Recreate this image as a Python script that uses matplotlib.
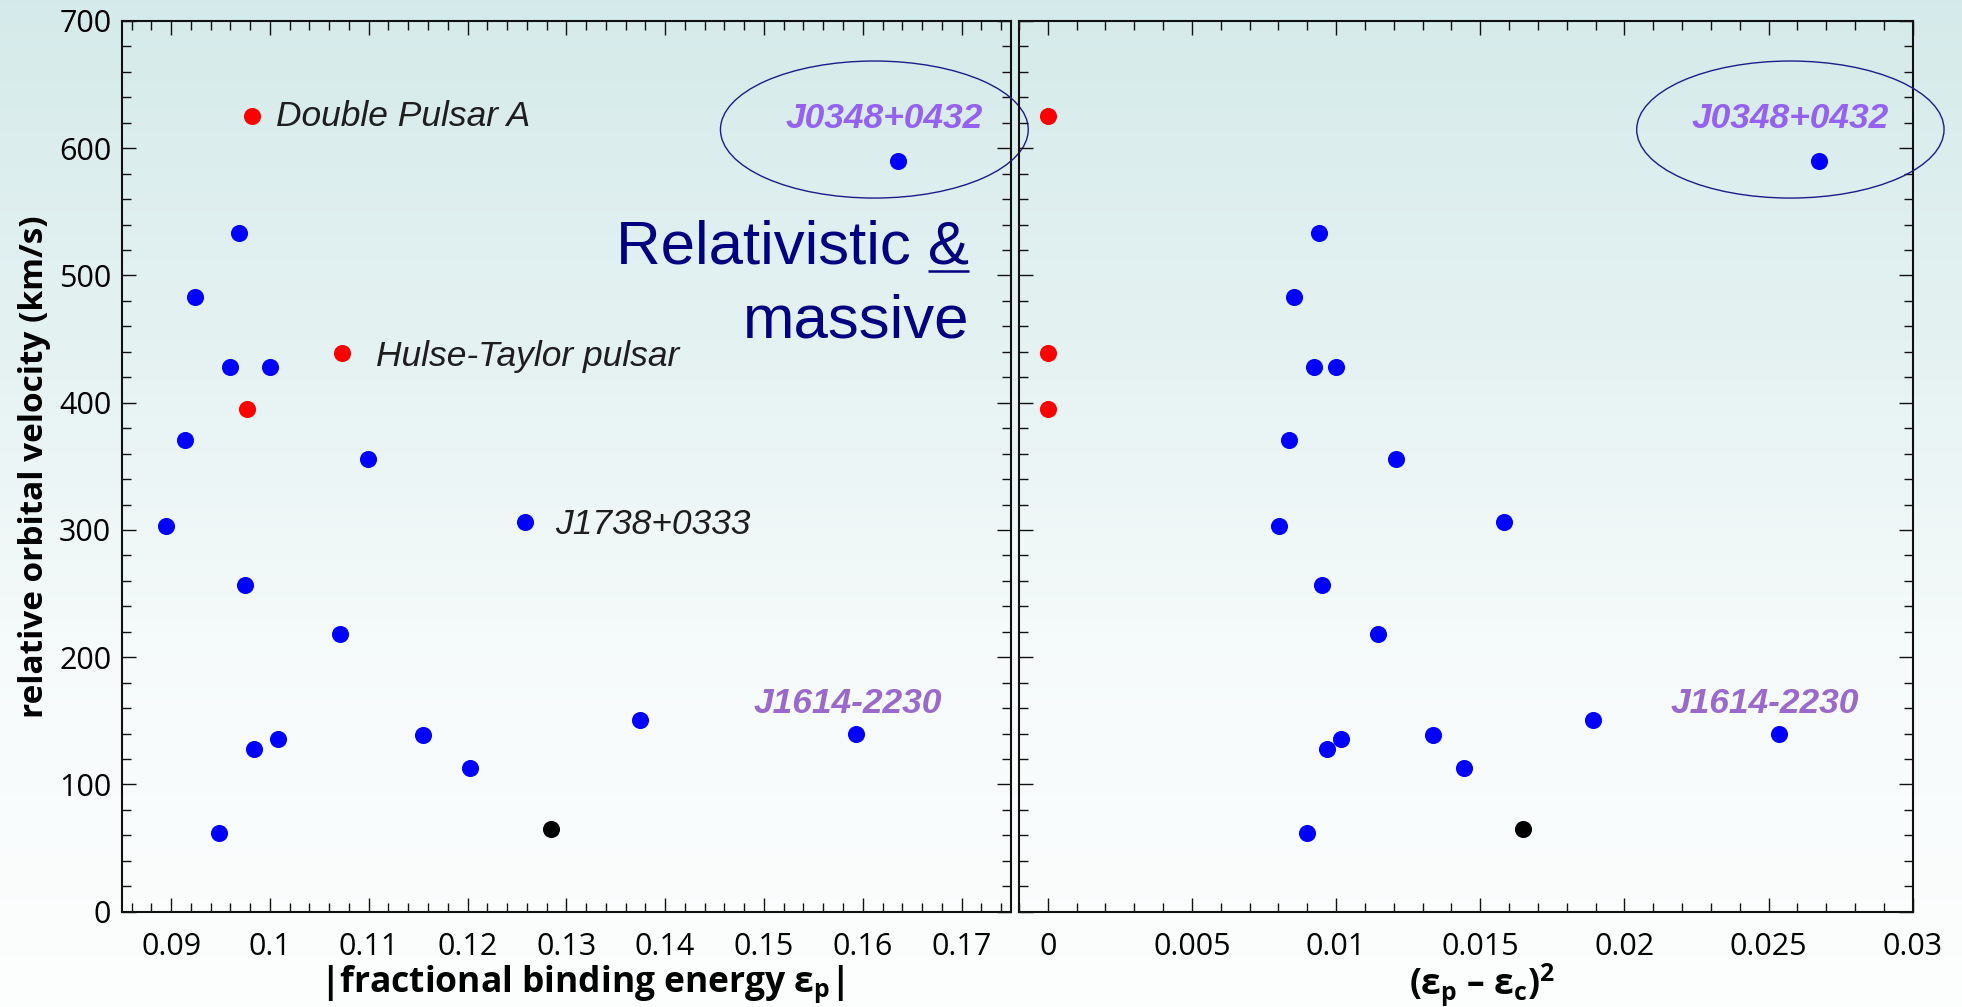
import numpy as np
import matplotlib
matplotlib.use("Agg")
import matplotlib.pyplot as plt
from matplotlib.patches import Ellipse
from matplotlib.ticker import MultipleLocator, FuncFormatter
from matplotlib.lines import Line2D

# ---------------- data ----------------
# pulsar + white-dwarf systems (blue)
blue_eps = [0.1636, 0.0969, 0.0924, 0.0960, 0.1000, 0.0914, 0.1099, 0.0895, 0.1258,
            0.0975, 0.1071, 0.1155, 0.1008, 0.0984, 0.1202, 0.1375, 0.1593, 0.0948]
blue_d2 = [0.02674, 0.00939, 0.00854, 0.00922, 0.01000, 0.00835, 0.01208, 0.00801, 0.01583,
           0.00950, 0.01147, 0.01335, 0.01016, 0.00968, 0.01443, 0.01890, 0.02537, 0.00899]
blue_v = [590, 533.6, 483, 427.8, 427.8, 371, 356, 303, 306.5,
          257, 218, 139, 136, 127.6, 113, 150.5, 140, 62]
# double neutron stars (red)
red_eps = [0.0982, 0.1073, 0.0977]
red_d2 = [0.0, 0.0, 0.0]
red_v = [625, 439, 395]
# other (black)
black_eps = [0.1284]
black_d2 = [0.01649]
black_v = [65]

left_xticks_step = 0.01
right_xticks_step = 0.005

# ---------------- style ----------------
plt.rcParams["font.family"] = ["Open Sans", "DejaVu Sans"]
plt.rcParams["mathtext.fontset"] = "custom"
plt.rcParams["mathtext.rm"] = "Open Sans"
plt.rcParams["mathtext.it"] = "Open Sans:italic"
plt.rcParams["mathtext.bf"] = "Open Sans:bold"

fig = plt.figure(figsize=(19.62, 10.07), dpi=100)

# background gradient
bg = fig.add_axes([0, 0, 1, 1], zorder=-10)
n = 256
t = np.linspace(0, 1, n)  # 0 = top, 1 = bottom
stops = [0.0, 0.35, 0.65, 1.0]
rs = [0.835, 0.900, 0.965, 0.992]
gs = [0.918, 0.950, 0.983, 0.996]
bs = [0.918, 0.950, 0.983, 0.996]
grad = np.stack([np.interp(t, stops, rs), np.interp(t, stops, gs), np.interp(t, stops, bs)], axis=-1)
bg.imshow(grad[:, None, :], aspect="auto", extent=[0, 1, 0, 1], origin="upper")
bg.set_axis_off()

W, H = 1962.0, 1007.0
ax1 = fig.add_axes([121.7 / W, 1 - 911.7 / H, (1011 - 121.7) / W, (911.7 - 21) / H], zorder=1)
ax2 = fig.add_axes([1019 / W, 1 - 911.7 / H, (1912.7 - 1019) / W, (911.7 - 21) / H], zorder=1)

ms = 12.3
for ax, xb, xr, xk in [(ax1, blue_eps, red_eps, black_eps), (ax2, blue_d2, red_d2, black_d2)]:
    ax.set_facecolor("none")
    ax.plot(xb, blue_v, "o", color="#0000ff", ms=ms, mec="none", clip_on=False, zorder=3)
    ax.plot(xr, red_v, "o", color="#ff0000", ms=ms, mec="none", clip_on=False, zorder=3)
    ax.plot(xk, black_v, "o", color="#000000", ms=ms, mec="none", clip_on=False, zorder=3)
    ax.set_ylim(0, 700)
    ax.yaxis.set_major_locator(MultipleLocator(100))
    ax.yaxis.set_minor_locator(MultipleLocator(20))
    ax.tick_params(which="both", direction="in", top=True, right=True, width=1.0, color="#111111")
    ax.tick_params(which="major", length=10)
    ax.tick_params(which="minor", length=6.5)
    ax.tick_params(axis="x", which="major", labelsize=22, pad=14.5)
    ax.tick_params(axis="y", which="major", labelsize=22, pad=7.5)
    for s in ax.spines.values():
        s.set_linewidth(1.5)
        s.set_color("#111111")
    ax.xaxis.set_major_formatter(FuncFormatter(lambda v, p: "%g" % round(v, 6)))
    ax.yaxis.set_major_formatter(FuncFormatter(lambda v, p: "%g" % v))

ax1.set_xlim(0.085, 0.175)
ax1.xaxis.set_major_locator(MultipleLocator(left_xticks_step))
ax1.xaxis.set_minor_locator(MultipleLocator(0.002))
ax2.set_xlim(-0.001, 0.03)
ax2.xaxis.set_major_locator(MultipleLocator(right_xticks_step))
ax2.xaxis.set_minor_locator(MultipleLocator(0.001))
ax2.tick_params(axis="y", labelleft=False)

# axis labels
ax1.set_ylabel("relative orbital velocity (km/s)", fontsize=24, fontweight="bold")
ax1.yaxis.set_label_coords(-0.080, 0.5)
ax1.set_xlabel("|fractional binding energy ε$_{\\mathbf{p}}$|", fontsize=25.5, fontweight="bold")
ax1.xaxis.set_label_coords(0.5176, -0.058)
ax2.set_xlabel("(ε$_{\\mathbf{p}}$ – ε$_{\\mathbf{c}}$)$^{\\mathbf{2}}$", fontsize=25.5, fontweight="bold")
ax2.xaxis.set_label_coords(0.5176, -0.056)

# annotations
ann_font = ["Liberation Sans", "DejaVu Sans"]
ax1.annotate("Double Pulsar A", (red_eps[0], red_v[0]), xytext=(17.1, -6.7), textcoords="offset points",
             ha="left", va="baseline", fontsize=25.5, style="italic", color="#1e1e1e", family=ann_font)
ax1.annotate("Hulse-Taylor pulsar", (red_eps[1], red_v[1]), xytext=(24.8, -9.1), textcoords="offset points",
             ha="left", va="baseline", fontsize=25.5, style="italic", color="#1e1e1e", family=ann_font)
ax1.annotate("J1738+0333", (blue_eps[8], blue_v[8]), xytext=(22, -9.1), textcoords="offset points",
             ha="left", va="baseline", fontsize=25.5, style="italic", color="#1e1e1e", family=ann_font)

p1 = "#9461f0"
p2 = "#9b68cc"
for ax, xs, dx1, dx2 in [(ax1, blue_eps, -10, -5.9), (ax2, blue_d2, -20.8, -10.7)]:
    ax.annotate("J0348+0432", (xs[0], blue_v[0]), xytext=(dx1, 23.8), textcoords="offset points",
                ha="center", va="baseline", fontsize=25.5, style="italic", fontweight="bold",
                color=p1, family=ann_font)
    ax.annotate("J1614-2230", (xs[16], blue_v[16]), xytext=(dx2, 14.8), textcoords="offset points",
                ha="center", va="baseline", fontsize=25.5, style="italic", fontweight="bold",
                color=p2, family=ann_font)

# ellipses around J0348+0432
ell_col = "#1c1c8a"
ax1.add_patch(Ellipse((0.16117, 614.7), 0.03115, 107.7, fill=False, edgecolor=ell_col, lw=1.0,
                      clip_on=False, zorder=4))
ax2.add_patch(Ellipse((0.025757, 614.7), 0.01066, 107.7, fill=False, edgecolor=ell_col, lw=1.0,
                      clip_on=False, zorder=4))

# "Relativistic & massive"
navy = "#000080"
xr_ = (969 - 121.7) / 889.3
ax1.text(xr_, (911.7 - 264) / 890.7, "Relativistic &", transform=ax1.transAxes, ha="right",
         va="baseline", fontsize=44.5, color=navy, family=ann_font, zorder=5)
ax1.text(xr_, (911.7 - 338) / 890.7, "massive", transform=ax1.transAxes, ha="right",
         va="baseline", fontsize=44.5, color=navy, family=ann_font, zorder=5)
amp = ax1.text(xr_, (911.7 - 264) / 890.7, "&", transform=ax1.transAxes, ha="right",
               va="baseline", fontsize=44.5, color=navy, family=ann_font, alpha=0)
fig.canvas.draw()
bb = amp.get_window_extent()
uy = (H - 270.7) / H
fig.add_artist(Line2D([bb.x0 / W, bb.x1 / W], [uy, uy], transform=fig.transFigure,
                      color=navy, lw=1.8, solid_capstyle="butt"))

fig.savefig("out.png", dpi=100)
